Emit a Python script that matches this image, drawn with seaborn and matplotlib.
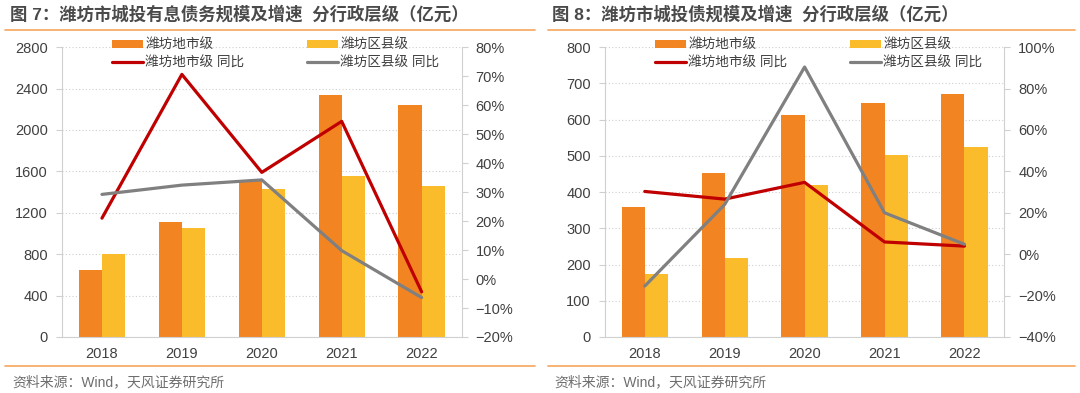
import numpy as np
import pandas as pd
import matplotlib.pyplot as plt
import seaborn as sns

# ----------- Data -----------
years = ["2018", "2019", "2020", "2021", "2022"]
levels = ["潍坊地市级", "潍坊区县级"]
yoy_labels = ["潍坊地市级 同比", "潍坊区县级 同比"]

# Fig 7: interest-bearing debt (亿元) and yoy (%)
debt_city_7 = [652, 1108, 1505, 2338, 2238]
debt_county_7 = [798, 1056, 1425, 1553, 1456]
yoy_city_7 = [21.0, 70.6, 36.8, 54.4, -4.4]
yoy_county_7 = [29.2, 32.4, 34.2, 9.8, -6.4]

# Fig 8: bonds (亿元) and yoy (%)
bond_city_8 = [359, 454, 612, 646, 670]
bond_county_8 = [174, 219, 419, 501, 525]
yoy_city_8 = [30.3, 26.6, 34.7, 5.9, 3.9]
yoy_county_8 = [-15.4, 24.0, 90.4, 20.0, 4.8]

# axis ticks
left_ticks_7 = [0, 400, 800, 1200, 1600, 2000, 2400, 2800]
right_ticks_7 = [-20, -10, 0, 10, 20, 30, 40, 50, 60, 70, 80]
left_ticks_8 = [0, 100, 200, 300, 400, 500, 600, 700, 800]
right_ticks_8 = [-40, -20, 0, 20, 40, 60, 80, 100]

titles = ["图 7：潍坊市城投有息债务规模及增速  分行政层级（亿元）",
          "图 8：潍坊市城投债规模及增速  分行政层级（亿元）"]
source = "资料来源：Wind，天风证券研究所"

# ----------- Style -----------
sns.set_theme(style="white")
plt.rcParams['font.family'] = ['Liberation Sans', 'Noto Sans CJK SC', 'DejaVu Sans']
plt.rcParams['axes.unicode_minus'] = True

ORANGE = "#F28522"
YELLOW = "#FBBC2C"
RED = "#C00000"
GREY = "#808080"
AXIS = "#D0D0D0"
TXT = "#404040"
RULE = "#F5A65B"


def draw_panel(fig, left, city, county, yoy_c, yoy_k, lticks, rticks):
    ax = fig.add_axes([left, 0.1425, 0.370, 0.7375])
    df = pd.DataFrame({
        "year": years * 2,
        "level": [levels[0]] * len(years) + [levels[1]] * len(years),
        "value": city + county,
    })
    sns.barplot(data=df, x="year", y="value", hue="level", hue_order=levels,
                palette=[ORANGE, YELLOW], width=0.58, saturation=1,
                linewidth=0, ax=ax)
    bar_h, bar_l = ax.get_legend_handles_labels()
    ax.get_legend().remove()

    ax.set_xlim(-0.5, len(years) - 0.5)
    ax.set_ylim(lticks[0], lticks[-1])
    ax.set_yticks(lticks)
    ax.set_yticklabels([str(t) for t in lticks])
    ax.set_xlabel("")
    ax.set_ylabel("")
    ax.yaxis.grid(True, linestyle=(0, (1, 2)), color="#CFCFCF", lw=0.8)
    ax.set_axisbelow(True)
    ax.set_xticks(np.arange(-0.5, len(years)), minor=True)
    ax.tick_params(axis="x", which="major", length=0, pad=7, labelsize=10.5, labelcolor=TXT)
    ax.tick_params(axis="x", which="minor", length=4, color=AXIS, width=0.8)
    ax.tick_params(axis="y", length=4, color=AXIS, width=0.8, left=True,
                   labelsize=10.5, labelcolor=TXT, pad=6)
    for s in ["top", "right"]:
        ax.spines[s].set_visible(False)
    for s in ["left", "bottom"]:
        ax.spines[s].set_color(AXIS)
        ax.spines[s].set_linewidth(0.8)

    ax2 = ax.twinx()
    pos = np.arange(len(years))
    sns.lineplot(x=pos, y=yoy_c, color=RED, lw=2.3, ax=ax2, label=yoy_labels[0])
    sns.lineplot(x=pos, y=yoy_k, color=GREY, lw=2.3, ax=ax2, label=yoy_labels[1])
    line_h, line_l = ax2.get_legend_handles_labels()
    ax2.get_legend().remove()
    ax2.set_ylim(rticks[0], rticks[-1])
    ax2.set_yticks(rticks)
    ax2.set_yticklabels([f"{t}%".replace("-", "\u2212") for t in rticks])
    ax2.tick_params(axis="y", length=4, color=AXIS, width=0.8, right=True,
                    labelsize=10.5, labelcolor=TXT, pad=6)
    for s in ["top", "left", "bottom"]:
        ax2.spines[s].set_visible(False)
    ax2.spines["right"].set_color(AXIS)
    ax2.spines["right"].set_linewidth(0.8)

    handles = [bar_h[0], line_h[0], bar_h[1], line_h[1]]
    labels = [bar_l[0], line_l[0], bar_l[1], line_l[1]]
    ax2.legend(handles, labels, ncol=2, loc="upper center",
               bbox_to_anchor=(0.535, 1.075), frameon=False, fontsize=9.8,
               handlelength=2.3, handleheight=0.55, handletextpad=0.15,
               columnspacing=4.6, labelspacing=0.3, labelcolor=TXT)
    return ax, ax2


fig = plt.figure(figsize=(10.8, 3.93), dpi=100)

draw_panel(fig, 0.0574, debt_city_7, debt_county_7, yoy_city_7, yoy_county_7,
           left_ticks_7, right_ticks_7)
draw_panel(fig, 0.5600, bond_city_8, bond_county_8, yoy_city_8, yoy_county_8,
           left_ticks_8, right_ticks_8)

# titles, rules and source notes
for x0, x1, title in [(0.005, 0.495, titles[0]), (0.507, 0.995, titles[1])]:
    fig.text(x0 + 0.004, 1 - 14 / 393, title, fontsize=12.5, fontweight="bold",
             color="#4A4A4A", va="center", ha="left")
    fig.add_artist(plt.Line2D([x0, x1], [1 - 30 / 393] * 2, color=RULE, lw=1.2))
    fig.add_artist(plt.Line2D([x0, x1], [1 - 366 / 393] * 2, color=RULE, lw=1.2))
    fig.text(x0 + 0.006, 1 - 382 / 393, source, fontsize=10, color="#6E6E6E",
             va="center", ha="left")

fig.savefig("out.png", dpi=100)
